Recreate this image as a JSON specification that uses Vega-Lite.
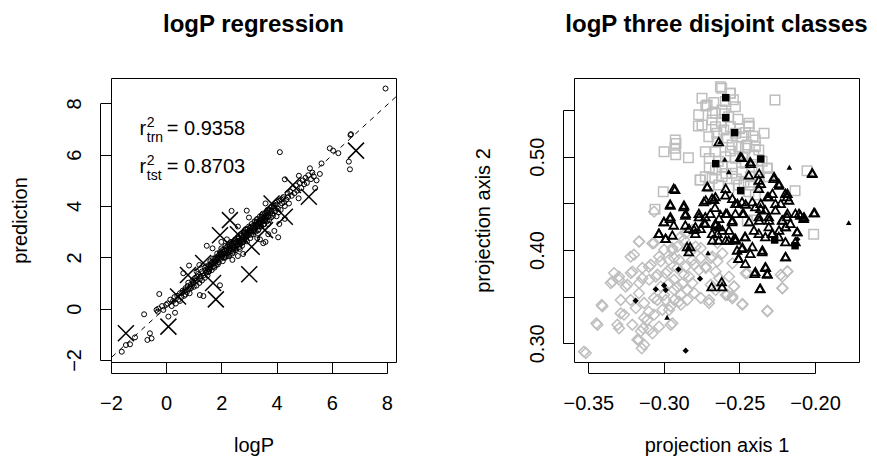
{
"$schema": "https://vega.github.io/schema/vega-lite/v6.json",
"background": "white",
"padding": {"left": 9, "top": 12, "right": 5, "bottom": 5},
"spacing": 75,
"config": {
  "font": "Liberation Sans",
  "view": {"stroke": "black", "strokeWidth": 1},
  "axis": {"domain": true, "domainColor": "black", "domainWidth": 1, "offset": 11, "grid": false, "tickSize": -11, "tickColor": "black", "tickWidth": 1, "labelFont": "Liberation Sans", "labelFontSize": 20, "labelColor": "black", "labelFlush": false, "labelOverlap": false, "titleFont": "Liberation Sans", "titleFontSize": 20, "titleFontWeight": "normal", "titleColor": "black"},
  "axisX": {"labelPadding": 31, "titlePadding": 22},
  "title": {"font": "Liberation Sans", "fontSize": 24, "fontWeight": "bold", "color": "black", "offset": 41, "anchor": "middle"}
},
"datasets": {
  "diag": [{"x": -2.5, "y": -2.41}, {"x": 9, "y": 8.92}],
  "ann": [{"x": -0.97, "y": 6.765, "sub": "trn", "val": "= 0.9358"}, {"x": -0.97, "y": 5.27, "sub": "tst", "val": "= 0.8703"}],
  "trn": [
{"x":-1.61,"y":-1.68},{"x":-1.46,"y":-1.42},{"x":-1.31,"y":-1.39},{"x":-1.13,"y":-1.12},{"x":-0.80,"y":-0.22},{"x":-0.68,"y":-1.22},{"x":-0.53,"y":-1.16},{"x":-0.59,"y":-0.96},{"x":-0.25,"y":0.57},{"x":-0.35,"y":-0.05},
{"x":-0.30,"y":-0.12},{"x":-0.28,"y":0.00},{"x":-0.15,"y":0.10},{"x":-0.10,"y":-0.05},{"x":0.00,"y":0.15},{"x":0.05,"y":0.20},{"x":0.08,"y":-0.31},{"x":0.32,"y":-0.16},{"x":0.15,"y":0.35},{"x":0.20,"y":0.10},
{"x":0.25,"y":0.30},{"x":0.30,"y":0.45},{"x":0.35,"y":0.20},{"x":0.40,"y":0.50},{"x":0.45,"y":0.35},{"x":0.50,"y":0.60},{"x":0.50,"y":0.30},{"x":0.55,"y":0.45},{"x":0.60,"y":0.70},{"x":0.62,"y":1.38},
{"x":0.65,"y":0.50},{"x":0.70,"y":0.80},{"x":0.70,"y":0.55},{"x":0.75,"y":0.65},{"x":0.80,"y":1.01},{"x":0.80,"y":0.75},{"x":0.83,"y":1.68},{"x":0.85,"y":0.60},{"x":0.90,"y":0.95},{"x":0.90,"y":0.80},
{"x":0.95,"y":1.10},{"x":1.00,"y":0.85},{"x":1.00,"y":1.00},{"x":1.05,"y":1.20},{"x":1.10,"y":0.90},{"x":1.10,"y":1.10},{"x":1.15,"y":1.35},{"x":1.20,"y":1.00},{"x":1.22,"y":0.53},{"x":1.25,"y":1.25},
{"x":1.30,"y":1.45},{"x":1.30,"y":1.10},{"x":1.35,"y":0.49},{"x":1.35,"y":1.30},{"x":1.40,"y":1.60},{"x":1.40,"y":1.20},{"x":1.45,"y":1.40},{"x":1.47,"y":2.45},{"x":1.50,"y":1.55},{"x":1.50,"y":1.30},
{"x":1.55,"y":1.70},{"x":1.55,"y":1.45},{"x":1.60,"y":1.60},{"x":1.60,"y":1.85},{"x":1.65,"y":1.50},{"x":1.68,"y":2.35},{"x":1.70,"y":1.75},{"x":1.70,"y":1.95},{"x":1.75,"y":1.60},{"x":1.75,"y":1.85},
{"x":1.80,"y":2.00},{"x":1.80,"y":1.70},{"x":1.85,"y":1.90},{"x":1.85,"y":2.15},{"x":1.90,"y":1.80},{"x":1.90,"y":2.05},{"x":1.95,"y":0.91},{"x":1.95,"y":2.20},{"x":2.00,"y":1.95},{"x":2.00,"y":2.10},
{"x":2.00,"y":2.35},{"x":2.05,"y":1.85},{"x":2.05,"y":2.20},{"x":2.10,"y":2.00},{"x":2.10,"y":2.30},{"x":2.15,"y":2.15},{"x":2.15,"y":2.45},{"x":2.20,"y":2.05},{"x":2.20,"y":2.30},{"x":2.25,"y":2.20},
{"x":2.25,"y":2.50},{"x":2.30,"y":2.10},{"x":2.30,"y":2.35},{"x":2.35,"y":2.60},{"x":2.35,"y":2.25},{"x":2.37,"y":3.81},{"x":2.40,"y":2.40},{"x":2.40,"y":2.15},{"x":2.45,"y":2.55},{"x":2.45,"y":2.30},
{"x":2.50,"y":2.45},{"x":2.50,"y":2.70},{"x":2.55,"y":2.35},{"x":2.55,"y":2.60},{"x":2.60,"y":2.50},{"x":2.60,"y":2.80},{"x":2.65,"y":2.40},{"x":2.65,"y":2.65},{"x":2.70,"y":2.55},{"x":2.70,"y":2.90},
{"x":2.75,"y":2.70},{"x":2.75,"y":2.45},{"x":2.79,"y":2.13},{"x":2.80,"y":2.85},{"x":2.80,"y":2.60},{"x":2.85,"y":2.75},{"x":2.85,"y":3.00},{"x":2.90,"y":2.70},{"x":2.90,"y":2.95},{"x":2.92,"y":3.82},
{"x":2.95,"y":2.85},{"x":2.95,"y":3.10},{"x":3.00,"y":2.90},{"x":3.00,"y":3.20},{"x":3.05,"y":2.75},{"x":3.05,"y":3.05},{"x":3.10,"y":3.00},{"x":3.10,"y":3.30},{"x":3.15,"y":2.90},{"x":3.15,"y":3.15},
{"x":3.20,"y":3.10},{"x":3.20,"y":3.40},{"x":3.25,"y":3.00},{"x":3.25,"y":3.25},{"x":3.30,"y":3.20},{"x":3.30,"y":3.50},{"x":3.35,"y":3.10},{"x":3.35,"y":3.35},{"x":3.40,"y":3.30},{"x":3.40,"y":3.60},
{"x":3.45,"y":3.20},{"x":3.45,"y":3.45},{"x":3.50,"y":3.40},{"x":3.50,"y":3.70},{"x":3.52,"y":2.55},{"x":3.55,"y":3.30},{"x":3.55,"y":3.55},{"x":3.60,"y":3.50},{"x":3.60,"y":2.60},{"x":3.65,"y":3.40},
{"x":3.65,"y":3.75},{"x":3.70,"y":3.60},{"x":3.70,"y":3.30},{"x":3.75,"y":3.85},{"x":3.80,"y":3.55},{"x":3.80,"y":3.95},{"x":3.85,"y":3.70},{"x":3.90,"y":4.00},{"x":3.92,"y":3.03},{"x":3.95,"y":3.80},
{"x":4.00,"y":4.05},{"x":4.00,"y":3.60},{"x":4.06,"y":2.78},{"x":4.05,"y":3.90},{"x":4.10,"y":4.20},{"x":4.12,"y":6.10},{"x":4.15,"y":3.85},{"x":4.20,"y":4.10},{"x":4.25,"y":4.35},{"x":4.30,"y":5.04},
{"x":4.30,"y":4.00},{"x":4.35,"y":4.25},{"x":4.40,"y":4.50},{"x":4.45,"y":4.10},{"x":4.50,"y":4.55},{"x":4.55,"y":4.40},{"x":4.60,"y":4.70},{"x":4.65,"y":4.50},{"x":4.70,"y":4.80},{"x":4.75,"y":4.60},
{"x":4.81,"y":5.18},{"x":4.85,"y":4.90},{"x":4.90,"y":4.70},{"x":4.95,"y":5.00},{"x":5.00,"y":4.85},{"x":5.05,"y":5.10},{"x":5.10,"y":4.90},{"x":5.15,"y":5.20},{"x":5.21,"y":5.47},{"x":5.25,"y":5.05},
{"x":5.30,"y":5.30},{"x":5.35,"y":5.15},{"x":5.45,"y":5.00},{"x":5.57,"y":5.25},{"x":5.63,"y":5.66},{"x":5.93,"y":6.25},{"x":6.05,"y":6.16},{"x":6.24,"y":6.06},{"x":6.62,"y":5.73},{"x":6.66,"y":5.43},
{"x":6.68,"y":6.77},{"x":6.70,"y":6.80},{"x":7.95,"y":8.58},
{"x":2.40,"y":1.90},{"x":2.60,"y":2.05},{"x":3.30,"y":2.75},{"x":3.40,"y":2.70},{"x":3.70,"y":2.90},{"x":4.10,"y":3.30},{"x":4.30,"y":3.50},{"x":1.20,"y":1.70},{"x":1.10,"y":1.45},{"x":2.00,"y":2.60},
{"x":2.20,"y":2.70},{"x":2.60,"y":3.20},{"x":3.00,"y":3.55},{"x":3.60,"y":4.10},{"x":4.80,"y":4.30},{"x":5.40,"y":4.70},
{"x":1.02,"y":1.15},{"x":1.12,"y":1.25},{"x":1.22,"y":1.15},{"x":1.32,"y":1.38},{"x":1.42,"y":1.50},{"x":1.52,"y":1.42},{"x":1.62,"y":1.72},{"x":1.72,"y":1.65},{"x":1.82,"y":1.92},{"x":1.92,"y":1.95},
{"x":2.02,"y":2.02},{"x":2.12,"y":2.25},{"x":2.22,"y":2.15},{"x":2.32,"y":2.45},{"x":2.42,"y":2.35},{"x":2.52,"y":2.58},{"x":2.62,"y":2.62},{"x":2.72,"y":2.68},{"x":2.82,"y":2.95},{"x":2.92,"y":2.82},
{"x":3.02,"y":3.05},{"x":3.12,"y":3.12},{"x":3.22,"y":3.28},{"x":3.32,"y":3.30},{"x":3.42,"y":3.48},{"x":3.52,"y":3.52},{"x":3.62,"y":3.62},{"x":3.72,"y":3.78},{"x":3.82,"y":3.82},{"x":3.92,"y":3.92},
{"x":4.02,"y":4.18},{"x":4.22,"y":4.30},{"x":4.42,"y":4.35},{"x":2.08,"y":2.12},{"x":2.18,"y":2.38},{"x":2.28,"y":2.28},{"x":2.38,"y":2.52},{"x":2.48,"y":2.38},{"x":2.58,"y":2.72},{"x":2.68,"y":2.52},
{"x":2.78,"y":2.78},{"x":2.88,"y":2.88},{"x":2.98,"y":3.00},{"x":3.08,"y":3.18},{"x":3.18,"y":3.00},{"x":3.28,"y":3.38},{"x":3.38,"y":3.20},{"x":3.48,"y":3.58},{"x":3.58,"y":3.42},{"x":3.68,"y":3.68},
{"x":1.58,"y":1.62},{"x":1.68,"y":1.82},{"x":1.78,"y":1.78},{"x":1.88,"y":2.00},{"x":1.98,"y":2.15},{"x":0.58,"y":0.62},{"x":0.68,"y":0.72},{"x":0.78,"y":0.88},{"x":0.88,"y":0.85},{"x":0.98,"y":1.05},
{"x":1.45,"y":1.65},{"x":1.57,"y":1.52},{"x":1.63,"y":1.78},{"x":1.77,"y":1.95},{"x":1.87,"y":1.72},{"x":1.93,"y":2.12},{"x":2.03,"y":2.28},{"x":2.13,"y":1.98},{"x":2.23,"y":2.42},{"x":2.27,"y":2.05},
{"x":2.33,"y":2.55},{"x":2.43,"y":2.22},{"x":2.47,"y":2.62},{"x":2.53,"y":2.28},{"x":2.57,"y":2.48},{"x":2.63,"y":2.75},{"x":2.67,"y":2.33},{"x":2.73,"y":2.85},{"x":2.77,"y":2.58},{"x":2.83,"y":2.68},
{"x":2.87,"y":3.08},{"x":2.93,"y":2.62},{"x":2.97,"y":2.95},{"x":3.03,"y":3.15},{"x":3.07,"y":2.88},{"x":3.13,"y":3.22},{"x":3.17,"y":3.05},{"x":3.23,"y":3.15},{"x":3.27,"y":3.45},{"x":3.33,"y":3.05},
{"x":3.37,"y":3.42},{"x":3.43,"y":3.35},{"x":3.47,"y":3.65},{"x":3.53,"y":3.28},{"x":3.57,"y":3.68},{"x":3.63,"y":3.55},{"x":3.67,"y":3.85},{"x":3.73,"y":3.45},{"x":3.77,"y":3.72},{"x":3.83,"y":3.98},
{"x":3.87,"y":3.62},{"x":3.97,"y":4.12},{"x":4.07,"y":3.75},{"x":4.17,"y":4.25},{"x":4.27,"y":4.15}
  ],
  "tst": [
{"x":-1.46,"y":-0.96},{"x":0.08,"y":-0.70},{"x":1.80,"y":0.36},{"x":3.01,"y":1.34},{"x":1.95,"y":2.86},{"x":2.31,"y":3.45},{"x":4.30,"y":3.58},{"x":5.17,"y":4.36},{"x":6.88,"y":6.16},{"x":4.59,"y":4.82},
{"x":3.82,"y":4.10},{"x":3.58,"y":3.06},{"x":3.10,"y":2.41},{"x":1.34,"y":1.78},{"x":0.79,"y":1.31},{"x":0.43,"y":0.47},{"x":1.70,"y":1.00},{"x":2.60,"y":2.90}
  ],
  "sqA": [
{"x":-0.2618,"y":0.5732},{"x":-0.2562,"y":0.5679},{"x":-0.2723,"y":0.5543},{"x":-0.2772,"y":0.5329},{"x":-0.2679,"y":0.5464},{"x":-0.2265,"y":0.5607},{"x":-0.2437,"y":0.5329},{"x":-0.2337,"y":0.525},{"x":-0.2925,"y":0.518},{"x":-0.2920,"y":0.514},
{"x":-0.2928,"y":0.509},{"x":-0.2922,"y":0.502},{"x":-0.2999,"y":0.5054},{"x":-0.2838,"y":0.4989},{"x":-0.2761,"y":0.475},{"x":-0.3004,"y":0.4625},{"x":-0.2053,"y":0.485},{"x":-0.2132,"y":0.4636},{"x":-0.2315,"y":0.4875},{"x":-0.2009,"y":0.4168},
{"x":-0.3059,"y":0.4436},{"x":-0.2415,"y":0.4321},{"x":-0.2448,"y":0.4307},
{"x":-0.2626,"y":0.575},{"x":-0.256,"y":0.568},{"x":-0.2748,"y":0.5626},{"x":-0.2714,"y":0.5554},{"x":-0.2659,"y":0.5465},{"x":-0.2681,"y":0.5393},{"x":-0.2615,"y":0.55},{"x":-0.2571,"y":0.5429},{"x":-0.2748,"y":0.534},{"x":-0.2659,"y":0.5322},
{"x":-0.2604,"y":0.5286},{"x":-0.2527,"y":0.5251},{"x":-0.2483,"y":0.5214},{"x":-0.2438,"y":0.5322},{"x":-0.2703,"y":0.5214},{"x":-0.2648,"y":0.5161},{"x":-0.2549,"y":0.5125},{"x":-0.2505,"y":0.5107},{"x":-0.2450,"y":0.5125},{"x":-0.2395,"y":0.5107},
{"x":-0.2405,"y":0.5018},{"x":-0.2726,"y":0.5054},{"x":-0.2659,"y":0.5054},{"x":-0.2593,"y":0.5},{"x":-0.2527,"y":0.4982},{"x":-0.2461,"y":0.4929},{"x":-0.2417,"y":0.4893},{"x":-0.2549,"y":0.4893},{"x":-0.2615,"y":0.4893},{"x":-0.2659,"y":0.4857},
{"x":-0.2726,"y":0.4786},{"x":-0.2759,"y":0.475},{"x":-0.2681,"y":0.4768},{"x":-0.2615,"y":0.4786},{"x":-0.2549,"y":0.4822},{"x":-0.2483,"y":0.4839},{"x":-0.2428,"y":0.4786},{"x":-0.2372,"y":0.4857},{"x":-0.2317,"y":0.4875},{"x":-0.2306,"y":0.4786},
{"x":-0.2428,"y":0.4697},{"x":-0.2372,"y":0.4715},{"x":-0.2703,"y":0.4678},{"x":-0.2637,"y":0.4697},{"x":-0.2571,"y":0.4661},{"x":-0.2505,"y":0.4697},{"x":-0.2438,"y":0.4625},{"x":-0.2395,"y":0.459},{"x":-0.2461,"y":0.509},{"x":-0.2372,"y":0.5072},
{"x":-0.2395,"y":0.5179},{"x":-0.2527,"y":0.5536},{"x":-0.2593,"y":0.559},{"x":-0.2438,"y":0.5358},{"x":-0.2650,"y":0.5250},{"x":-0.2580,"y":0.5200},{"x":-0.2500,"y":0.5300},{"x":-0.2620,"y":0.5370},{"x":-0.2560,"y":0.5060},{"x":-0.2480,"y":0.5000},
{"x":-0.2670,"y":0.5580},{"x":-0.2540,"y":0.5610},{"x":-0.2600,"y":0.5460},{"x":-0.2510,"y":0.5400},{"x":-0.2460,"y":0.5260},{"x":-0.2560,"y":0.5320},{"x":-0.2700,"y":0.4980},{"x":-0.2640,"y":0.4950},{"x":-0.2590,"y":0.4820},{"x":-0.2520,"y":0.4760},
{"x":-0.2470,"y":0.4720},{"x":-0.2700,"y":0.4880},{"x":-0.2350,"y":0.4950},{"x":-0.2410,"y":0.5220},{"x":-0.2770,"y":0.5450}
  ],
  "triB": [
{"x":-0.2926,"y":0.465},{"x":-0.2959,"y":0.4493},{"x":-0.2867,"y":0.4482},{"x":-0.2856,"y":0.4393},{"x":-0.2999,"y":0.4304},{"x":-0.2959,"y":0.4339},{"x":-0.3032,"y":0.4179},{"x":-0.2988,"y":0.4125},{"x":-0.2944,"y":0.4161},{"x":-0.2827,"y":0.4036},
{"x":-0.2834,"y":0.4232},{"x":-0.2801,"y":0.4221},{"x":-0.2757,"y":0.4232},{"x":-0.2712,"y":0.4679},{"x":-0.2723,"y":0.4536},{"x":-0.2668,"y":0.4543},{"x":-0.2662,"y":0.4457},{"x":-0.2591,"y":0.4661},{"x":-0.2547,"y":0.4554},{"x":-0.2514,"y":0.45},
{"x":-0.2459,"y":0.4493},{"x":-0.2415,"y":0.4518},{"x":-0.2359,"y":0.45},{"x":-0.2315,"y":0.4571},{"x":-0.2271,"y":0.4786},{"x":-0.2238,"y":0.4696},{"x":-0.2183,"y":0.4607},{"x":-0.2172,"y":0.4536},{"x":-0.2227,"y":0.45},{"x":-0.2282,"y":0.4607},
{"x":-0.2018,"y":0.4821},{"x":-0.2002,"y":0.44},{"x":-0.2106,"y":0.4393},{"x":-0.2073,"y":0.4357},{"x":-0.2183,"y":0.4393},{"x":-0.2216,"y":0.4321},{"x":-0.2194,"y":0.425},{"x":-0.2117,"y":0.4196},{"x":-0.2194,"y":0.3929},{"x":-0.2326,"y":0.3814},
{"x":-0.2315,"y":0.3743},{"x":-0.2399,"y":0.375},{"x":-0.2365,"y":0.3586},{"x":-0.2507,"y":0.3911},{"x":-0.2525,"y":0.4107},{"x":-0.248,"y":0.4029},{"x":-0.2415,"y":0.4036},{"x":-0.2348,"y":0.4},{"x":-0.237,"y":0.4321},{"x":-0.2304,"y":0.4321},
{"x":-0.2282,"y":0.4179},{"x":-0.2238,"y":0.4214},{"x":-0.2679,"y":0.4107},{"x":-0.2646,"y":0.4179},{"x":-0.2613,"y":0.4214},{"x":-0.2569,"y":0.4214},{"x":-0.2591,"y":0.4107},{"x":-0.2536,"y":0.4125},{"x":-0.2657,"y":0.4268},{"x":-0.2635,"y":0.4339},
{"x":-0.2591,"y":0.4393},{"x":-0.2547,"y":0.4321},{"x":-0.248,"y":0.4393},{"x":-0.2437,"y":0.4304},{"x":-0.2404,"y":0.4214},{"x":-0.2465,"y":0.4143},{"x":-0.2684,"y":0.3607},{"x":-0.2618,"y":0.3661},{"x":-0.2485,"y":0.4993},{"x":-0.2426,"y":0.4929},
{"x":-0.2370,"y":0.4821},{"x":-0.2359,"y":0.4714},{"x":-0.2768,"y":0.4357},{"x":-0.2734,"y":0.4293},
{"x":-0.2395,"y":0.4464},{"x":-0.2361,"y":0.4447},{"x":-0.2329,"y":0.4429},{"x":-0.2372,"y":0.4357},{"x":-0.2306,"y":0.4357},{"x":-0.2262,"y":0.4429},{"x":-0.2218,"y":0.4322},{"x":-0.2185,"y":0.4357},{"x":-0.2163,"y":0.4286},{"x":-0.2196,"y":0.425},
{"x":-0.2130,"y":0.4393},{"x":-0.2097,"y":0.4375},{"x":-0.2075,"y":0.434},{"x":-0.2008,"y":0.44},{"x":-0.2306,"y":0.425},{"x":-0.2372,"y":0.4179},{"x":-0.2329,"y":0.4143},{"x":-0.2284,"y":0.4179},{"x":-0.224,"y":0.4143},{"x":-0.2196,"y":0.4089},
{"x":-0.213,"y":0.4089},{"x":-0.2119,"y":0.4196},{"x":-0.2527,"y":0.45},{"x":-0.2483,"y":0.4518},{"x":-0.2582,"y":0.4393},{"x":-0.2527,"y":0.4393},{"x":-0.2472,"y":0.4393},{"x":-0.2549,"y":0.4304},{"x":-0.2659,"y":0.4286},{"x":-0.2637,"y":0.425},
{"x":-0.2681,"y":0.4179},{"x":-0.2637,"y":0.4107},{"x":-0.2571,"y":0.4107},{"x":-0.2527,"y":0.4125},{"x":-0.2461,"y":0.4143},{"x":-0.2516,"y":0.4},{"x":-0.2483,"y":0.4018},{"x":-0.2428,"y":0.3964},{"x":-0.2350,"y":0.3982},{"x":-0.2505,"y":0.3911},
{"x":-0.2461,"y":0.3857},{"x":-0.2395,"y":0.3768},{"x":-0.2329,"y":0.3821},{"x":-0.2317,"y":0.375},{"x":-0.2362,"y":0.359},{"x":-0.2196,"y":0.3928},{"x":-0.2615,"y":0.3607},
{"x":-0.2935,"y":0.4661},{"x":-0.2957,"y":0.4482},{"x":-0.2869,"y":0.4464},{"x":-0.2957,"y":0.4357},{"x":-0.2858,"y":0.4375},{"x":-0.3001,"y":0.4304},{"x":-0.2935,"y":0.4268},{"x":-0.3034,"y":0.4179},{"x":-0.299,"y":0.4125},{"x":-0.2858,"y":0.4268},
{"x":-0.2792,"y":0.425},{"x":-0.2726,"y":0.4286},{"x":-0.2769,"y":0.4393},{"x":-0.2726,"y":0.4357},{"x":-0.2693,"y":0.4393},{"x":-0.2792,"y":0.4179},{"x":-0.2847,"y":0.4036},{"x":-0.2836,"y":0.3982},{"x":-0.2714,"y":0.4679},{"x":-0.2659,"y":0.4571},
{"x":-0.2593,"y":0.459},{"x":-0.2736,"y":0.4518},{"x":-0.2681,"y":0.4554},{"x":-0.2494,"y":0.5},{"x":-0.2428,"y":0.4946},{"x":-0.2372,"y":0.475},{"x":-0.2372,"y":0.4661},{"x":-0.2438,"y":0.4804},{"x":-0.2637,"y":0.5161},
{"x":-0.224,"y":0.4715},{"x":-0.2273,"y":0.4768},{"x":-0.2196,"y":0.4608},{"x":-0.2185,"y":0.4571},{"x":-0.2306,"y":0.4571},{"x":-0.2262,"y":0.45},{"x":-0.2019,"y":0.4829}
  ],
  "diaC": [
{"x":-0.3529,"y":0.2911},{"x":-0.3447,"y":0.3214},{"x":-0.3412,"y":0.3411},{"x":-0.3341,"y":0.3661},{"x":-0.3297,"y":0.3714},{"x":-0.3286,"y":0.3321},{"x":-0.3297,"y":0.3161},{"x":-0.3253,"y":0.3607},{"x":-0.3220,"y":0.3929},{"x":-0.3209,"y":0.3768},
{"x":-0.3165,"y":0.4089},{"x":-0.3165,"y":0.3036},{"x":-0.3147,"y":0.2946},{"x":-0.3138,"y":0.3161},{"x":-0.3110,"y":0.325},{"x":-0.3099,"y":0.3339},{"x":-0.3076,"y":0.4071},{"x":-0.3065,"y":0.4411},{"x":-0.3165,"y":0.3536},{"x":-0.3220,"y":0.3464},
{"x":-0.3286,"y":0.3464},{"x":-0.3143,"y":0.3696},{"x":-0.3099,"y":0.3821},{"x":-0.3032,"y":0.3929},{"x":-0.3054,"y":0.3714},{"x":-0.3021,"y":0.3607},{"x":-0.3043,"y":0.3464},{"x":-0.2988,"y":0.3464},{"x":-0.2966,"y":0.3357},{"x":-0.2944,"y":0.3214},
{"x":-0.3032,"y":0.3179},{"x":-0.3076,"y":0.3107},{"x":-0.2988,"y":0.375},{"x":-0.2966,"y":0.3893},{"x":-0.2944,"y":0.4},{"x":-0.2911,"y":0.4036},{"x":-0.2889,"y":0.4143},{"x":-0.2856,"y":0.4179},{"x":-0.2812,"y":0.4214},{"x":-0.2790,"y":0.4036},
{"x":-0.2900,"y":0.3893},{"x":-0.2856,"y":0.3821},{"x":-0.2812,"y":0.3893},{"x":-0.2834,"y":0.3714},{"x":-0.2878,"y":0.3643},{"x":-0.2845,"y":0.3571},{"x":-0.2911,"y":0.3607},{"x":-0.2933,"y":0.3464},{"x":-0.2900,"y":0.3446},{"x":-0.2966,"y":0.3643},
{"x":-0.2768,"y":0.3786},{"x":-0.2723,"y":0.3821},{"x":-0.2701,"y":0.3464},{"x":-0.2657,"y":0.3571},{"x":-0.2591,"y":0.3518},{"x":-0.2547,"y":0.3482},{"x":-0.2480,"y":0.3421},{"x":-0.2536,"y":0.3607},{"x":-0.2569,"y":0.3714},{"x":-0.2657,"y":0.3768},
{"x":-0.2679,"y":0.3929},{"x":-0.2613,"y":0.3964},{"x":-0.2547,"y":0.3857},{"x":-0.2459,"y":0.375},{"x":-0.2315,"y":0.335},{"x":-0.2216,"y":0.3589},{"x":-0.2216,"y":0.3714},{"x":-0.2183,"y":0.377},
{"x":-0.3164,"y":0.4093},{"x":-0.3065,"y":0.4075},{"x":-0.2999,"y":0.4003},{"x":-0.2944,"y":0.4021},{"x":-0.2933,"y":0.3914},{"x":-0.3021,"y":0.3879},{"x":-0.3087,"y":0.3842},{"x":-0.3143,"y":0.3807},{"x":-0.3219,"y":0.3753},{"x":-0.3297,"y":0.3682},
{"x":-0.3352,"y":0.3646},{"x":-0.3242,"y":0.3628},{"x":-0.3164,"y":0.3646},{"x":-0.3098,"y":0.3682},{"x":-0.3043,"y":0.3735},{"x":-0.2977,"y":0.3772},{"x":-0.2911,"y":0.3807},{"x":-0.2867,"y":0.3735},{"x":-0.2933,"y":0.3682},{"x":-0.2933,"y":0.3575},
{"x":-0.2888,"y":0.3521},{"x":-0.2999,"y":0.3521},{"x":-0.3065,"y":0.3486},{"x":-0.3131,"y":0.3432},{"x":-0.3186,"y":0.3378},{"x":-0.3264,"y":0.3307},{"x":-0.3308,"y":0.3199},{"x":-0.3209,"y":0.3199},{"x":-0.3131,"y":0.3271},{"x":-0.3065,"y":0.3307},
{"x":-0.301,"y":0.336},{"x":-0.2955,"y":0.3397},{"x":-0.2888,"y":0.3414},{"x":-0.2845,"y":0.3467},{"x":-0.2800,"y":0.3539},{"x":-0.2756,"y":0.3486},{"x":-0.2701,"y":0.3432},{"x":-0.2723,"y":0.3807},{"x":-0.269,"y":0.3914},{"x":-0.2756,"y":0.3914},
{"x":-0.2800,"y":0.3842},{"x":-0.2822,"y":0.3986},{"x":-0.2756,"y":0.4021},{"x":-0.2867,"y":0.4111},{"x":-0.269,"y":0.3628},{"x":-0.2812,"y":0.3646},{"x":-0.3153,"y":0.3129},{"x":-0.3131,"y":0.2985},{"x":-0.3176,"y":0.3039},{"x":-0.2955,"y":0.3199},
{"x":-0.3098,"y":0.3146},{"x":-0.344,"y":0.3199},{"x":-0.3407,"y":0.3397},{"x":-0.3517,"y":0.2896},{"x":-0.3198,"y":0.395},{"x":-0.3330,"y":0.3753},
{"x":-0.2646,"y":0.3879},{"x":-0.2635,"y":0.37},{"x":-0.2536,"y":0.3611},{"x":-0.258,"y":0.3521},{"x":-0.2481,"y":0.3414},{"x":-0.2448,"y":0.3753},{"x":-0.2315,"y":0.3343},{"x":-0.2216,"y":0.3593},{"x":-0.2183,"y":0.3772},{"x":-0.2227,"y":0.3735},
{"x":-0.2646,"y":0.4075},{"x":-0.2547,"y":0.3504}
  ],
  "sqAt": [
{"x":-0.2591,"y":0.5632},{"x":-0.2591,"y":0.5418},{"x":-0.2532,"y":0.5257},{"x":-0.2359,"y":0.4975},{"x":-0.2657,"y":0.4925},{"x":-0.2492,"y":0.4636},{"x":-0.2267,"y":0.4107},{"x":-0.2132,"y":0.4046}
  ],
  "triBt": [
{"x":-0.2597,"y":0.4972},{"x":-0.2629,"y":0.5161},{"x":-0.2170,"y":0.4886},{"x":-0.1777,"y":0.4293},{"x":-0.2708,"y":0.3971},{"x":-0.2979,"y":0.3279},{"x":-0.2626,"y":0.4411},{"x":-0.2571,"y":0.4839}
  ],
  "diaCt": [
{"x":-0.3187,"y":0.3457},{"x":-0.3054,"y":0.3579},{"x":-0.2999,"y":0.3621},{"x":-0.2988,"y":0.3571},{"x":-0.2904,"y":0.3793},{"x":-0.2761,"y":0.3693},{"x":-0.2856,"y":0.2921},{"x":-0.2117,"y":0.4114}
  ]
},
"hconcat": [
  {
    "width": 285, "height": 284,
    "title": "logP regression",
    "encoding": {
      "x": {"field": "x", "type": "quantitative", "scale": {"domain": [-2, 8.33], "nice": false, "zero": false}, "axis": {"title": "logP", "values": [-2, 0, 2, 4, 6, 8], "format": "d", "domainDash": [276, 1000]}},
      "y": {"field": "y", "type": "quantitative", "scale": {"domain": [-2.08, 8.99], "nice": false, "zero": false}, "axis": {"title": "prediction", "values": [-2, 0, 2, 4, 6, 8], "format": "d", "domainDash": [0, 2.05, 256.6, 1000], "labelAngle": -90, "labelAlign": "center", "labelBaseline": "bottom", "labelPadding": 27, "titlePadding": 34}}
    },
    "layer": [
      {"data": {"name": "diag"}, "mark": {"type": "line", "color": "black", "strokeWidth": 1, "strokeDash": [5, 5], "clip": true}, "encoding": {}},
      {"data": {"name": "trn"}, "mark": {"type": "point", "shape": "circle", "filled": false, "stroke": "black", "strokeWidth": 1, "size": 25, "opacity": 1}},
      {"data": {"name": "tst"}, "mark": {"type": "point", "shape": "M-1,-1L1,1M-1,1L1,-1", "filled": false, "stroke": "black", "strokeWidth": 1.5, "size": 256, "opacity": 1}},
      {"data": {"name": "ann"}, "mark": {"type": "text", "text": "r", "align": "left", "baseline": "alphabetic", "fontSize": 20, "color": "black"}},
      {"data": {"name": "ann"}, "mark": {"type": "text", "text": "2", "align": "left", "baseline": "alphabetic", "fontSize": 14, "color": "black", "dx": 7.4, "dy": -8.3}},
      {"data": {"name": "ann"}, "mark": {"type": "text", "align": "left", "baseline": "alphabetic", "fontSize": 14, "color": "black", "dx": 7.4, "dy": 6.7}, "encoding": {"text": {"field": "sub"}}},
      {"data": {"name": "ann"}, "mark": {"type": "text", "align": "left", "baseline": "alphabetic", "fontSize": 20, "color": "black", "dx": 27.4}, "encoding": {"text": {"field": "val"}}}
    ]
  },
  {
    "width": 285, "height": 284,
    "title": "logP three disjoint classes",
    "encoding": {
      "x": {"field": "x", "type": "quantitative", "scale": {"domain": [-0.3595, -0.1709], "nice": false, "zero": false}, "axis": {"title": "projection axis 1", "values": [-0.35, -0.3, -0.25, -0.2], "format": ".2f", "domainDash": [0, 14.4, 226.6, 1000]}},
      "y": {"field": "y", "type": "quantitative", "scale": {"domain": [0.28, 0.5843], "nice": false, "zero": false}, "axis": {"title": "projection axis 2", "values": [0.3, 0.35, 0.4, 0.45, 0.5, 0.55], "labelExpr": "round(datum.value*100) % 10 == 0 ? format(datum.value, '.2f') : ''", "domainDash": [0, 18.7, 233.3, 1000], "labelAngle": -90, "labelAlign": "center", "labelBaseline": "bottom", "labelPadding": 27, "titlePadding": 34}}
    },
    "layer": [
      {"data": {"name": "diaC"}, "mark": {"type": "point", "shape": "diamond", "filled": false, "stroke": "#bebebe", "strokeWidth": 1.5, "size": 115, "opacity": 1}},
      {"data": {"name": "sqA"}, "mark": {"type": "point", "shape": "square", "filled": false, "stroke": "#bebebe", "strokeWidth": 1.5, "size": 90, "opacity": 1}},
      {"data": {"name": "triB"}, "mark": {"type": "point", "shape": "triangle-up", "filled": false, "stroke": "black", "strokeWidth": 1.8, "size": 75, "opacity": 1}},
      {"data": {"name": "sqAt"}, "mark": {"type": "point", "shape": "square", "filled": true, "fill": "black", "stroke": null, "size": 56, "opacity": 1}},
      {"data": {"name": "triBt"}, "mark": {"type": "point", "shape": "triangle-up", "filled": true, "fill": "black", "size": 32, "opacity": 1}},
      {"data": {"name": "diaCt"}, "mark": {"type": "point", "shape": "diamond", "filled": true, "fill": "black", "size": 40, "opacity": 1}}
    ]
  }
]
}
